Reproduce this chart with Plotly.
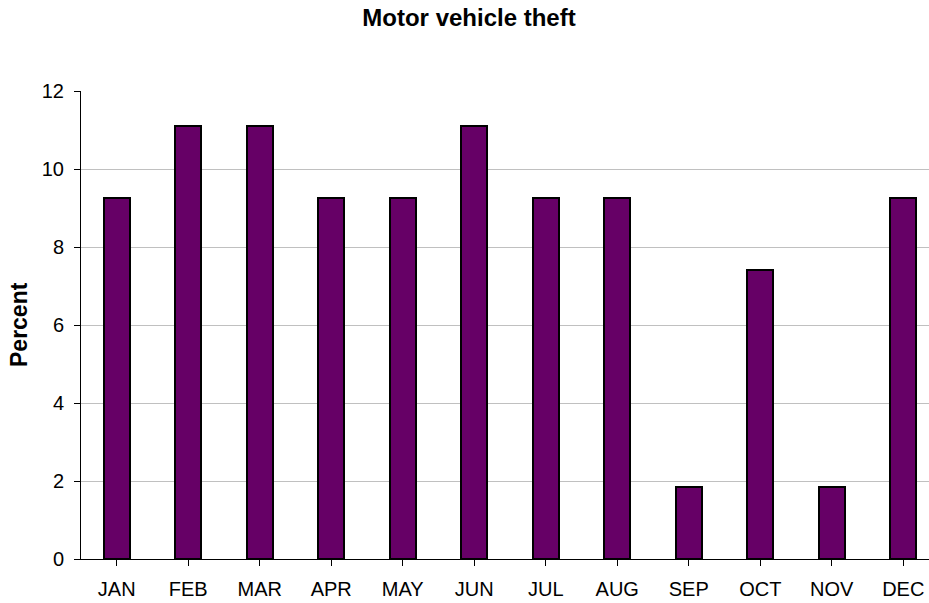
import plotly.graph_objects as go

months = ["JAN", "FEB", "MAR", "APR", "MAY", "JUN", "JUL", "AUG", "SEP", "OCT", "NOV", "DEC"]
percent = [9.26, 11.11, 11.11, 9.26, 9.26, 11.11, 9.26, 9.26, 1.85, 7.41, 1.85, 9.26]
y_ticks = [0, 2, 4, 6, 8, 10, 12]

W, H = 929, 603
L, T, B = 81, 91, 44
plot_w = W - L
cat_px = 71.5

fig = go.Figure(go.Bar(
    x=list(range(len(months))), y=percent,
    width=0.37,
    marker=dict(color="#660066", line=dict(color="black", width=2)),
))

fig.update_layout(
    width=W, height=H,
    margin=dict(l=L, r=0, t=T, b=B, pad=0),
    paper_bgcolor="white", plot_bgcolor="white",
    font=dict(family="Liberation Sans, Arial", size=20, color="black"),
    title=dict(text="<b>Motor vehicle theft</b>", x=469 / W, xref="container", xanchor="center",
               y=1 - 18 / H, yref="container", yanchor="middle", font=dict(size=24)),
    showlegend=False,
    bargap=0,
    annotations=[dict(
        text="<b>Percent</b>", textangle=-90, showarrow=False,
        xref="paper", yref="paper", x=(19 - L) / plot_w, y=0.5,
        xanchor="center", yanchor="middle", font=dict(size=23),
    )],
)

fig.update_xaxes(
    tickmode="array", tickvals=list(range(len(months))), ticktext=months,
    range=[-0.5, -0.5 + plot_w / cat_px],
    showline=True, linecolor="black", linewidth=1,
    ticks="outside", ticklen=6, tickcolor="black", tickson="boundaries",
    ticklabelstandoff=6,
    showgrid=False, zeroline=False,
)
fig.update_yaxes(
    range=[0, 12], tickvals=y_ticks,
    showline=True, linecolor="black", linewidth=1,
    ticks="outside", ticklen=6, tickcolor="black",
    ticklabelstandoff=6,
    showgrid=True, gridcolor="#c0c0c0", gridwidth=1, zeroline=False,
)

fig.write_html("out.html", config={"displayModeBar": False},
               post_script="document.body.style.margin='0';")
